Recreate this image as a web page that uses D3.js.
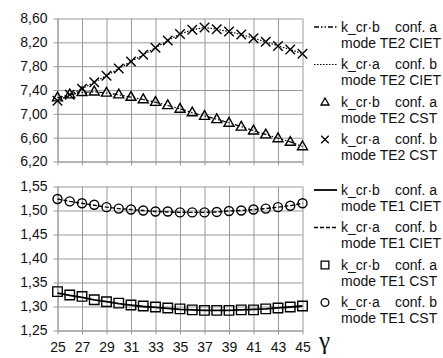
<!DOCTYPE html>
<html>
<head>
<meta charset="utf-8">
<script src="https://cdn.jsdelivr.net/npm/d3@7"></script>
<style>
  body { margin: 0; background: #fff; }
  text { font-family: "Liberation Sans", Arial, sans-serif; fill: #111; }
</style>
</head>
<body>
<svg id="chart" width="443" height="358"></svg>
<script>
// gamma values (x axis)
const gamma = [25, 26, 27, 28, 29, 30, 31, 32, 33, 34, 35, 36, 37, 38, 39, 40, 41, 42, 43, 44, 45];
const xTicks = [25, 27, 29, 31, 33, 35, 37, 39, 41, 43, 45];

// upper panel, mode TE2
const te2Ticks = [6.2, 6.6, 7.0, 7.4, 7.8, 8.2, 8.6];
const te2CietB = [7.27, 7.32, 7.36, 7.37, 7.35, 7.32, 7.28, 7.24, 7.195, 7.14, 7.085, 7.02, 6.965, 6.91, 6.85, 6.785, 6.72, 6.655, 6.59, 6.53, 6.45];
const te2CietA = [7.22, 7.32, 7.42, 7.53, 7.64, 7.76, 7.88, 7.99, 8.11, 8.23, 8.34, 8.41, 8.45, 8.42, 8.38, 8.33, 8.27, 8.21, 8.14, 8.08, 8.01];
const te2CstB = [7.28, 7.33, 7.37, 7.38, 7.36, 7.33, 7.29, 7.25, 7.205, 7.15, 7.09, 7.03, 6.97, 6.915, 6.855, 6.79, 6.725, 6.66, 6.595, 6.535, 6.46];
const te2CstA = [7.22, 7.32, 7.42, 7.53, 7.64, 7.76, 7.88, 7.99, 8.11, 8.23, 8.34, 8.41, 8.45, 8.42, 8.38, 8.33, 8.27, 8.21, 8.14, 8.08, 8.01];

// lower panel, mode TE1
const te1Ticks = [1.25, 1.30, 1.35, 1.40, 1.45, 1.50, 1.55];
const te1CietB = [1.328, 1.323, 1.319, 1.314, 1.310, 1.306, 1.303, 1.300, 1.298, 1.296, 1.294, 1.293, 1.292, 1.292, 1.292, 1.293, 1.294, 1.295, 1.297, 1.299, 1.301];
const te1CietA = [1.524, 1.519, 1.515, 1.511, 1.507, 1.504, 1.502, 1.500, 1.498, 1.497, 1.496, 1.496, 1.496, 1.497, 1.499, 1.500, 1.502, 1.504, 1.507, 1.510, 1.515];
const te1CstB = [1.331, 1.324, 1.321, 1.314, 1.310, 1.307, 1.303, 1.301, 1.299, 1.297, 1.295, 1.293, 1.292, 1.292, 1.292, 1.293, 1.293, 1.295, 1.297, 1.299, 1.301];
const te1CstA = [1.524, 1.519, 1.515, 1.512, 1.507, 1.504, 1.502, 1.500, 1.498, 1.498, 1.496, 1.496, 1.496, 1.497, 1.499, 1.500, 1.502, 1.504, 1.507, 1.510, 1.515];

const legendTop = [
  ["k_cr·b", "conf. a", "mode TE2 CIET"],
  ["k_cr·a", "conf. b", "mode TE2 CIET"],
  ["k_cr·b", "conf. a", "mode TE2 CST"],
  ["k_cr·a", "conf. b", "mode TE2 CST"]
];
const legendBot = [
  ["k_cr·b", "conf. a", "mode TE1 CIET"],
  ["k_cr·a", "conf. b", "mode TE1 CIET"],
  ["k_cr·b", "conf. a", "mode TE1 CST"],
  ["k_cr·a", "conf. b", "mode TE1 CST"]
];

const svg = d3.select("#chart");
const gridColor = "#9a9a9a";
const fmt = v => d3.format(".2f")(v).replace(".", ",");

const x = d3.scaleLinear().domain([25, 45]).range([57.5, 302.5]);
const yTop = d3.scaleLinear().domain([6.2, 8.6]).range([161.5, 18.5]);
const yBot = d3.scaleLinear().domain([1.25, 1.55]).range([330.5, 186.5]);

// custom marker shapes
const triangle = { draw(ctx, s) { const r = Math.sqrt(s) / 2; ctx.moveTo(0, -r); ctx.lineTo(r, r * 0.75); ctx.lineTo(-r, r * 0.75); ctx.closePath(); } };
const cross = { draw(ctx, s) { const r = Math.sqrt(s) / 2; ctx.moveTo(-r, -r); ctx.lineTo(r, r); ctx.moveTo(r, -r); ctx.lineTo(-r, r); } };
const square = { draw(ctx, s) { const r = Math.sqrt(s) / 2; ctx.rect(-r, -r, 2 * r, 2 * r); } };
const circle = { draw(ctx, s) { const r = Math.sqrt(s) / 2; ctx.moveTo(r, 0); ctx.arc(0, 0, r, 0, 2 * Math.PI); } };

function panel(y, ticks, showX) {
  const w = x.range()[1] - x.range()[0];
  const h = y.range()[0] - y.range()[1];

  const gy = svg.append("g")
    .attr("transform", "translate(" + x.range()[0] + ",0)")
    .call(d3.axisLeft(y).tickValues(ticks).tickSizeInner(-w).tickSizeOuter(0).tickPadding(10).tickFormat(fmt));
  gy.selectAll(".tick line").attr("x1", -4).attr("stroke", gridColor);
  gy.select(".domain").attr("stroke", gridColor);
  gy.selectAll("text").attr("font-size", 14).style("font-family", "Liberation Sans, Arial, sans-serif").attr("fill", "#111");

  const gx = svg.append("g")
    .attr("transform", "translate(0," + y.range()[0] + ")")
    .call(d3.axisBottom(x).tickValues(xTicks).tickSizeInner(-h).tickSizeOuter(0).tickPadding(12)
      .tickFormat(showX ? d3.format("d") : () => ""));
  gx.selectAll(".tick line").attr("y1", 4).attr("stroke", gridColor);
  gx.select(".domain").attr("stroke", gridColor);
  gx.selectAll("text").attr("font-size", 14).style("font-family", "Liberation Sans, Arial, sans-serif").attr("fill", "#111");
}

panel(yTop, te2Ticks, false);
panel(yBot, te1Ticks, true);

function drawLine(y, vals, dash, width) {
  svg.append("path")
    .datum(vals)
    .attr("fill", "none")
    .attr("stroke", "#000")
    .attr("stroke-width", width)
    .attr("stroke-dasharray", dash)
    .attr("d", d3.line().x((d, i) => x(gamma[i])).y(d => y(d)));
}

function drawMarkers(y, vals, shape, size) {
  svg.append("g").selectAll("path")
    .data(vals)
    .join("path")
    .attr("transform", (d, i) => "translate(" + x(gamma[i]) + "," + y(d) + ")")
    .attr("d", d3.symbol().type(shape).size(size))
    .attr("fill", "none")
    .attr("stroke", "#000")
    .attr("stroke-width", 1.4);
}

drawLine(yTop, te2CietB, "5,2,1.5,2,1.5,2", 1.2);
drawLine(yTop, te2CietA, "1.5,1.5", 1.2);
drawMarkers(yTop, te2CstB, triangle, 100);
drawMarkers(yTop, te2CstA, cross, 90);

drawLine(yBot, te1CietB, null, 1.8);
drawLine(yBot, te1CietA, "4,2", 1.4);
drawMarkers(yBot, te1CstB, square, 90);
drawMarkers(yBot, te1CstA, circle, 81);

// legends: symbol on the first line, name on two lines
function legend(items, rows, kinds) {
  items.forEach((it, i) => {
    const yy = rows[i];
    const k = kinds[i];
    if (k.dash !== undefined) {
      svg.append("line").attr("x1", 314).attr("x2", 337).attr("y1", yy).attr("y2", yy)
        .attr("stroke", "#000").attr("stroke-width", k.width).attr("stroke-dasharray", k.dash);
    } else {
      svg.append("path").attr("transform", "translate(325," + yy + ")")
        .attr("d", d3.symbol().type(k.shape).size(k.size))
        .attr("fill", "none").attr("stroke", "#000").attr("stroke-width", 1.3);
    }
    svg.append("text").attr("x", 341).attr("y", yy).attr("dy", "0.35em").attr("font-size", 14).text(it[0]);
    svg.append("text").attr("x", 395).attr("y", yy).attr("dy", "0.35em").attr("font-size", 14).text(it[1]);
    svg.append("text").attr("x", 341).attr("y", yy + 16).attr("dy", "0.35em").attr("font-size", 14).text(it[2]);
  });
}

legend(legendTop, [27, 64.5, 102, 139.5], [
  { dash: "5,2,1.5,2,1.5,2", width: 1.4 },
  { dash: "1.5,1.5", width: 1.2 },
  { shape: triangle, size: 64 },
  { shape: cross, size: 56 }
]);
legend(legendBot, [190, 227.5, 265, 302.5], [
  { dash: null, width: 1.8 },
  { dash: "4,2", width: 1.6 },
  { shape: square, size: 60 },
  { shape: circle, size: 60 }
]);

svg.append("text")
  .attr("x", 319).attr("y", 349)
  .style("font-family", "Liberation Serif, Times New Roman, serif")
  .attr("font-size", 25)
  .text("γ");
</script>
</body>
</html>
